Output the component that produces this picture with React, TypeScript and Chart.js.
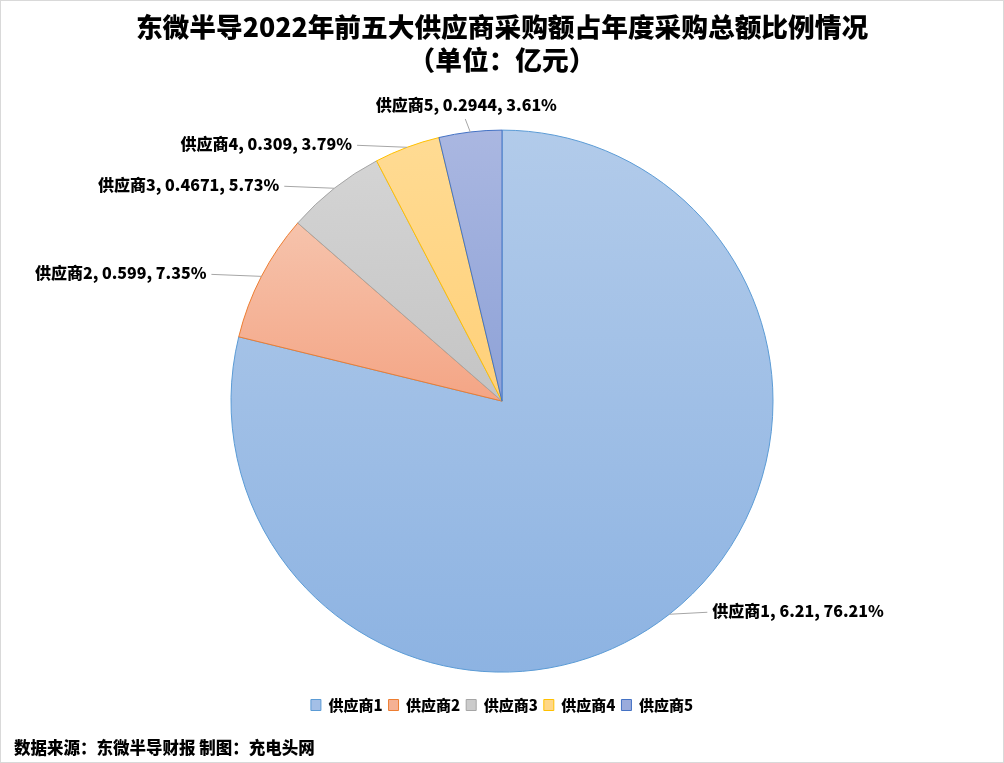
import { useEffect, useRef } from "react";
import { Chart, registerables } from "chart.js";

Chart.register(...registerables);

const suppliers = ["供应商1", "供应商2", "供应商3", "供应商4", "供应商5"];
const amounts = [6.21, 0.599, 0.4671, 0.309, 0.2944];
const shares = ["76.21%", "7.35%", "5.73%", "3.79%", "3.61%"];

const titleLines = ["东微半导2022年前五大供应商采购额占年度采购总额比例情况", "（单位：亿元）"];
const sourceNote = "数据来源：东微半导财报 制图：充电头网";

const fillTop = ["#b2cbea", "#f6c3ac", "#d4d4d4", "#ffdb93", "#aab7e1"];
const fillBottom = ["#8db3e2", "#f4a585", "#c4c4c4", "#ffd079", "#8ea2d7"];
const legendFill = ["#a3bfe6", "#f5b194", "#cbcbcb", "#ffd787", "#9aabdc"];
const borderColors = ["#5b9bd5", "#ed7d31", "#a5a5a5", "#ffc000", "#4472c4"];

const FONT = "'Noto Sans CJK SC', sans-serif";
const PIE_RADIUS = 271;

// vertical gradient over each slice's own bounding box, like Excel does
function sliceGradient(chart: Chart, index: number) {
  const area = chart.chartArea;
  if (!area) return legendFill[index];
  const cx = (area.left + area.right) / 2;
  const cy = (area.top + area.bottom) / 2;
  const r = PIE_RADIUS;
  const total = amounts.reduce((a, b) => a + b, 0);
  let a0 = -Math.PI / 2;
  for (let i = 0; i < index; i++) a0 += (amounts[i] / total) * Math.PI * 2;
  const a1 = a0 + (amounts[index] / total) * Math.PI * 2;
  let minY = Math.min(cy, cy + r * Math.sin(a0), cy + r * Math.sin(a1));
  let maxY = Math.max(cy, cy + r * Math.sin(a0), cy + r * Math.sin(a1));
  for (let k = -1; k <= 2; k++) {
    const top = -Math.PI / 2 + k * Math.PI * 2;
    const bottom = Math.PI / 2 + k * Math.PI * 2;
    if (top >= a0 && top <= a1) minY = cy - r;
    if (bottom >= a0 && bottom <= a1) maxY = cy + r;
  }
  const g = chart.ctx.createLinearGradient(0, minY, 0, maxY);
  g.addColorStop(0, fillTop[index]);
  g.addColorStop(1, fillBottom[index]);
  return g;
}

const sliceLabels = {
  id: "sliceLabels",
  afterDatasetsDraw(chart: Chart) {
    const ctx = chart.ctx;
    const meta = chart.getDatasetMeta(0);
    ctx.save();
    ctx.font = `900 16px ${FONT}`;
    ctx.fillStyle = "#000";
    ctx.strokeStyle = "#a6a6a6";
    ctx.lineWidth = 1;
    ctx.textBaseline = "middle";
    meta.data.forEach((el: any, i: number) => {
      const { x, y, startAngle, endAngle, outerRadius } = el.getProps(
        ["x", "y", "startAngle", "endAngle", "outerRadius"],
        true
      );
      const mid = (startAngle + endAngle) / 2;
      const ex = x + Math.cos(mid) * outerRadius;
      const ey = y + Math.sin(mid) * outerRadius;
      const text = `${suppliers[i]}, ${amounts[i]}, ${shares[i]}`;
      ctx.beginPath();
      if (Math.abs(Math.cos(mid)) < 0.3 && Math.sin(mid) < 0) {
        ctx.moveTo(ex, ey);
        ctx.lineTo(ex - 5, ey - 13);
        ctx.stroke();
        ctx.textAlign = "center";
        ctx.fillText(text, ex - 4, ey - 27);
      } else {
        const side = Math.cos(mid) >= 0 ? 1 : -1;
        const lx = ex + side * (side > 0 ? 38 : 50);
        const ly = ey - 2;
        ctx.moveTo(ex, ey);
        ctx.lineTo(lx, ly);
        ctx.stroke();
        ctx.textAlign = side > 0 ? "left" : "right";
        ctx.fillText(text, lx + side * 5, ly - 1);
      }
    });
    ctx.restore();
  },
};

export default function App() {
  const canvasRef = useRef<HTMLCanvasElement | null>(null);

  useEffect(() => {
    document.body.style.margin = "0";
    if (!canvasRef.current) return;

    const chart = new Chart(canvasRef.current, {
      type: "pie",
      data: {
        labels: suppliers,
        datasets: [
          {
            data: amounts,
            backgroundColor: (c: any) => sliceGradient(c.chart, c.dataIndex),
            borderColor: borderColors,
            borderWidth: 1,
            radius: PIE_RADIUS,
          } as any,
        ],
      },
      options: {
        responsive: true,
        maintainAspectRatio: false,
        animation: false,
        layout: {
          padding: { left: 13, right: 13, top: 0, bottom: 0 },
        },
        plugins: {
          tooltip: { enabled: false },
          title: {
            display: true,
            text: titleLines,
            color: "#000",
            font: { size: 26.7, weight: "900", family: FONT, lineHeight: 1.24 },
            padding: { top: 9.5, bottom: 34 },
          },
          subtitle: {
            display: true,
            position: "bottom",
            align: "start",
            text: sourceNote,
            color: "#000",
            font: { size: 16.5, weight: "900", family: FONT, lineHeight: 1.2 },
            padding: { top: 15.6, bottom: 4.1 },
          },
          legend: {
            position: "bottom",
            labels: {
              color: "#000",
              boxWidth: 10,
              boxHeight: 11,
              padding: 6,
              font: { size: 15, weight: "900", family: FONT },
              generateLabels: () =>
                suppliers.map((s, i) => ({
                  text: s,
                  fillStyle: legendFill[i],
                  strokeStyle: borderColors[i],
                  lineWidth: 1,
                  hidden: false,
                  index: i,
                  fontColor: "#000",
                })),
            },
          },
        },
      },
      plugins: [sliceLabels],
    });

    return () => {
      chart.destroy();
    };
  }, []);

  return (
    <div
      style={{
        width: 1004,
        height: 763,
        boxSizing: "border-box",
        border: "1px solid #d9d9d9",
        background: "#fff",
        position: "relative",
      }}
    >
      <canvas ref={canvasRef}></canvas>
    </div>
  );
}
